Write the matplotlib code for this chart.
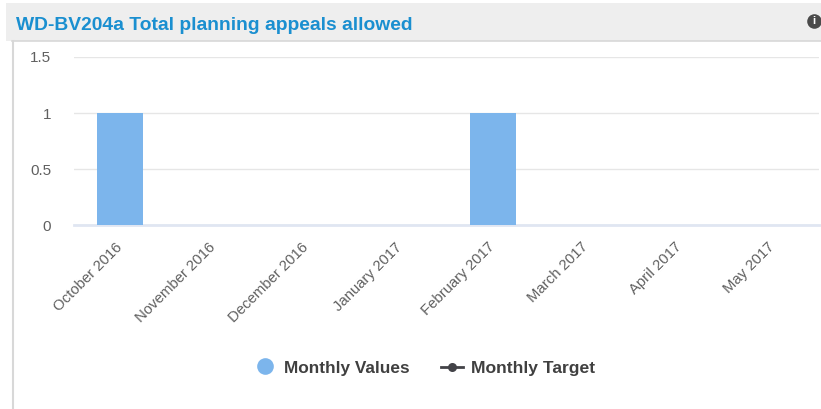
import numpy as np
import matplotlib
matplotlib.use('Agg')
import matplotlib.pyplot as plt
from matplotlib.patches import Rectangle
from matplotlib.lines import Line2D

# chart values
months = ['October 2016', 'November 2016', 'December 2016', 'January 2017',
          'February 2017', 'March 2017', 'April 2017', 'May 2017']
monthly_values = [1, 0, 0, 0, 1, 0, 0, 0]
y_ticks = [0, 0.5, 1, 1.5]
y_labels = ['0', '0.5', '1', '1.5']

W, H = 821, 409
plt.rcParams['font.family'] = ['Liberation Sans', 'DejaVu Sans']

fig = plt.figure(figsize=(W / 100, H / 100), dpi=100, facecolor='white')


def px_box(x0, y0, x1, y1):
    # pixel box (top-left origin) to figure fractions
    return [x0 / W, 1 - y1 / H, (x1 - x0) / W, (y1 - y0) / H]


# panel header and border, kept behind the axes
fig.add_artist(Rectangle((6 / W, 1 - 41 / H), (W - 6) / W, 38 / H, transform=fig.transFigure,
                         facecolor='#eeeeee', edgecolor='none', zorder=-2))
fig.add_artist(Line2D([12.5 / W, 12.5 / W], [0, 1 - 41 / H], transform=fig.transFigure,
                      color='#d8d8d8', lw=1.5, zorder=-1))
fig.add_artist(Line2D([12 / W, 1], [1 - 41 / H, 1 - 41 / H], transform=fig.transFigure,
                      color='#d8d8d8', lw=1.2, zorder=-1))
fig.text(16 / W, 1 - 25 / H, 'WD-BV204a Total planning appeals allowed', color='#1a8fd0',
         fontsize=13.9, fontweight='bold', va='center', ha='left')

# info icon
fig.add_artist(Line2D([814 / W], [1 - 21 / H], transform=fig.transFigure, marker='o', ms=10.5,
                      color='#4a4a4a', mec='none', ls='none'))
fig.text(814 / W, 1 - 21 / H, 'i', color='white', fontsize=8, fontweight='bold',
         ha='center', va='center')

ax = fig.add_axes(px_box(73.5, 57, 819, 225.5))
x = np.arange(len(months))
ax.bar(x, monthly_values, width=0.49, color='#7cb5ec', zorder=3)
ax.set_xlim(-0.5, len(months) - 0.5)
ax.set_ylim(0, 1.5)
ax.set_yticks(y_ticks)
ax.set_yticklabels(y_labels, color='#606060', fontsize=11)
ax.set_xticks(x)
ax.set_xticklabels(months, rotation=45, ha='right', va='center', rotation_mode='anchor',
                   color='#606060', fontsize=10.7)
ax.tick_params(axis='both', length=0)
ax.tick_params(axis='y', pad=16)
ax.tick_params(axis='x', pad=14)
ax.grid(axis='y', color='#e6e6e6', lw=1, zorder=0)
for s in ['top', 'left', 'right']:
    ax.spines[s].set_visible(False)
ax.spines['bottom'].set_color('#e0e6f2')
ax.spines['bottom'].set_linewidth(2)

# legend
fig.add_artist(Line2D([265 / W], [1 - 366 / H], transform=fig.transFigure, marker='o', ms=12,
                      color='#7cb5ec', mec='none', ls='none'))
fig.text(284 / W, 1 - 368 / H, 'Monthly Values', color='#404040', fontsize=12.4,
         fontweight='bold', va='center', ha='left')
fig.add_artist(Line2D([441 / W, 463 / W], [1 - 367 / H, 1 - 367 / H], transform=fig.transFigure,
                      color='#434348', lw=2))
fig.add_artist(Line2D([452 / W], [1 - 367 / H], transform=fig.transFigure, marker='o', ms=6.5,
                      color='#434348', mec='none', ls='none'))
fig.text(471 / W, 1 - 368 / H, 'Monthly Target', color='#404040', fontsize=12.6,
         fontweight='bold', va='center', ha='left')

fig.savefig('out.png', dpi=100, facecolor='white')
